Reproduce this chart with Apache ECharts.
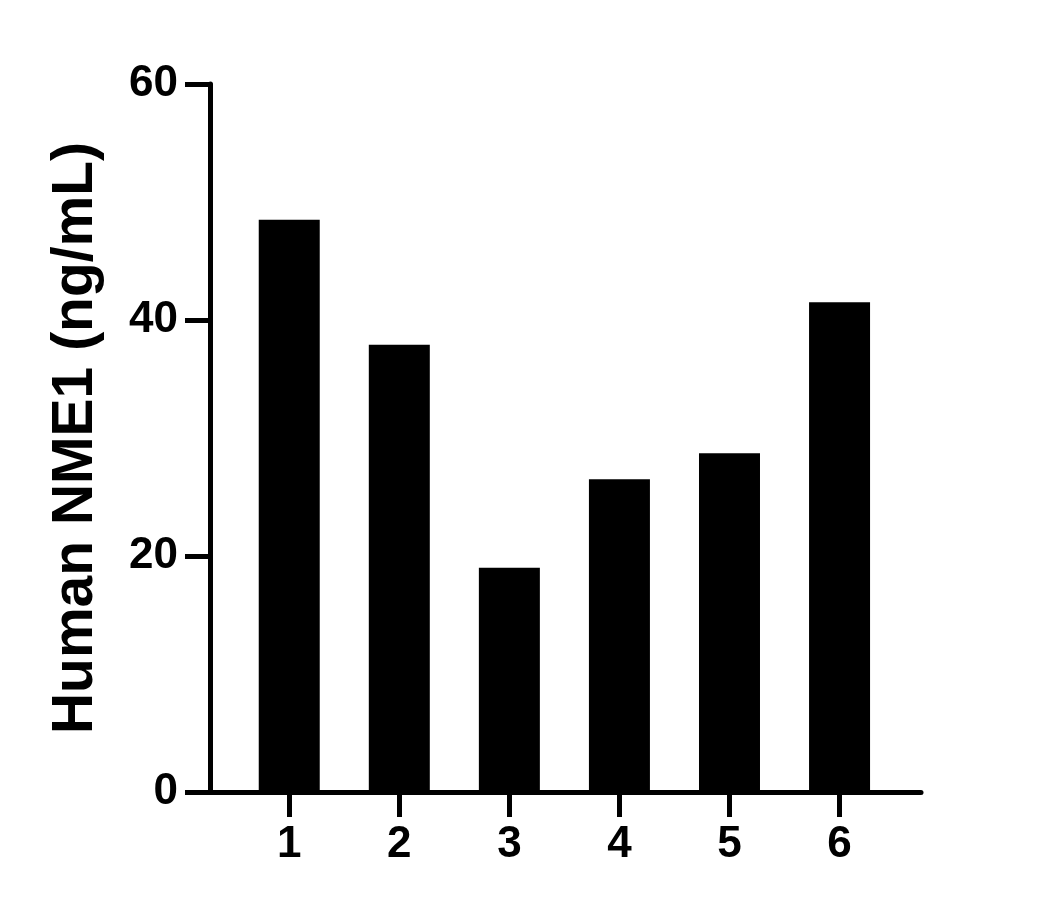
<!DOCTYPE html>
<html>
<head>
<meta charset="utf-8">
<script src="https://cdn.jsdelivr.net/npm/echarts@6/dist/echarts.min.js"></script>
<style>
html,body{margin:0;padding:0;background:#fff;}
#chart{width:1057px;height:909px;}
</style>
</head>
<body>
<div id="chart"></div>
<script>
// Data
const categories = ['1', '2', '3', '4', '5', '6'];
const positions = [1, 2, 3, 4, 5, 6];
const values = [48.5, 37.9, 19.0, 26.5, 28.7, 41.5];
const yTicks = [0, 20, 40, 60];
const yTitle = 'Human NME1 (ng/mL)';

const FONT = '"Liberation Sans", Arial, Helvetica, sans-serif';

const chart = echarts.init(document.getElementById('chart'), null, {renderer: 'canvas'});
chart.setOption({
  animation: false,
  backgroundColor: '#ffffff',
  grid: {
    left: 210, top: 84, right: 136, bottom: 117,
    containLabel: false, outerBoundsMode: 'none'
  },
  xAxis: {
    type: 'value',
    min: 0.28,
    max: 6.74,
    splitLine: {show: false},
    axisLine: {show: true, onZero: false, lineStyle: {color: '#000', width: 5}},
    axisTick: {show: true, length: 25, lineStyle: {color: '#000', width: 5}, customValues: positions},
    axisLabel: {
      show: true, margin: 31, color: '#000', fontSize: 44, fontWeight: 'bold', fontFamily: FONT,
      customValues: positions,
      formatter: function (v) { const i = positions.indexOf(Math.round(v)); return i >= 0 ? categories[i] : ''; }
    }
  },
  yAxis: {
    type: 'value',
    min: yTicks[0],
    max: yTicks[yTicks.length - 1],
    interval: 20,
    splitLine: {show: false},
    axisLine: {show: true, lineStyle: {color: '#000', width: 5}},
    axisTick: {show: true, length: 25, lineStyle: {color: '#000', width: 5}},
    axisLabel: {show: true, margin: 32, color: '#000', fontSize: 44, fontWeight: 'bold', fontFamily: FONT},
    name: yTitle,
    nameLocation: 'middle',
    nameGap: 105,
    nameTextStyle: {color: '#000', fontSize: 57, fontWeight: 'bold', fontFamily: FONT}
  },
  series: [{
    type: 'bar',
    barWidth: 61,
    itemStyle: {color: '#000'},
    data: positions.map((p, i) => [p, values[i]])
  }]
});
</script>
</body>
</html>
